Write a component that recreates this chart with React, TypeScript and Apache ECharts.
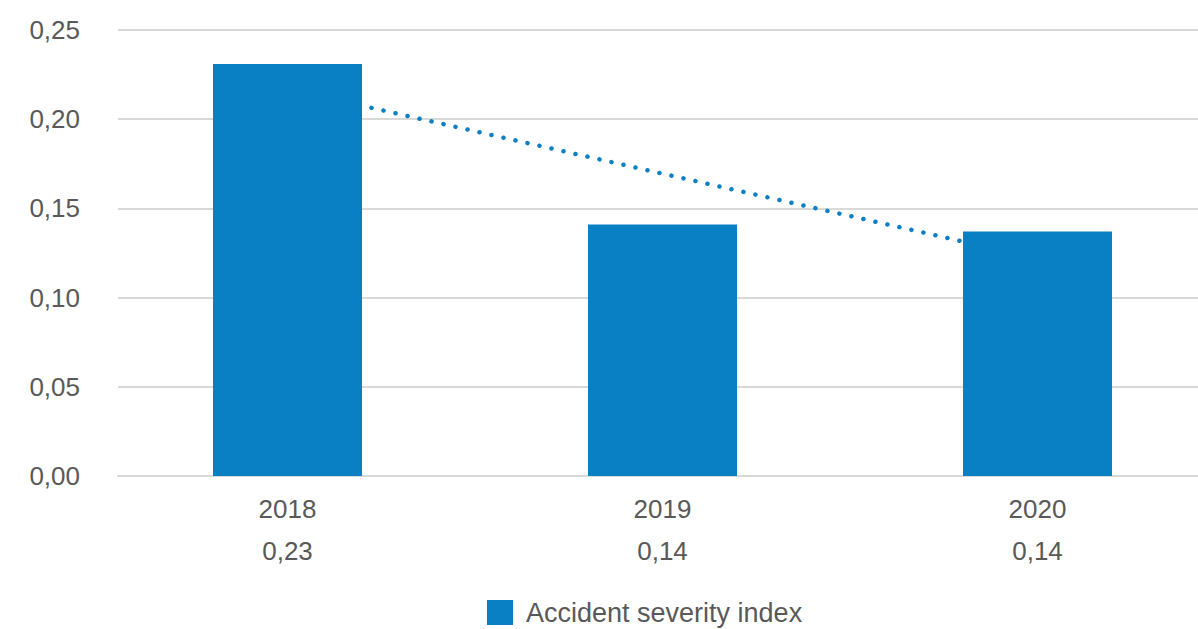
import React, { useEffect, useRef } from "react";
import * as echarts from "echarts";

const categories = ["2018", "2019", "2020"];
const severityValues = [0.231, 0.141, 0.137];
const trendValues = [0.217, 0.122]; // linear trend at 2018 and 2020
const yTicks = ["0,00", "0,05", "0,10", "0,15", "0,20", "0,25"];
const seriesName = "Accident severity index";

const BAR_COLOR = "#0a80c4";
const TEXT_COLOR = "#595959";
const GRID_COLOR = "#d9d9d9";
const FONT = "'Liberation Sans', Arial, sans-serif";

export default function App() {
  const ref = useRef<HTMLDivElement>(null);

  useEffect(() => {
    if (!ref.current) return;
    const chart = echarts.init(ref.current, undefined, { renderer: "svg" });
    const positions = categories.map((_, i) => i + 1);
    const fmt = (v: number) => v.toFixed(2).replace(".", ",");

    chart.setOption({
      animation: false,
      textStyle: { fontFamily: FONT },
      grid: { left: 118, right: 0, top: 30, bottom: 153, containLabel: false },
      legend: {
        data: [seriesName],
        left: 487,
        top: 599,
        padding: 0,
        icon: "rect",
        itemWidth: 26,
        itemHeight: 25,
        textStyle: { fontSize: 27, color: TEXT_COLOR, fontFamily: FONT, padding: [0, 0, 0, 8] },
      },
      xAxis: {
        type: "value",
        min: 0.548,
        max: 3.428,
        splitLine: { show: false },
        axisTick: { show: false },
        axisLine: { show: true, lineStyle: { color: GRID_COLOR, width: 2 } },
        axisLabel: {
          customValues: positions,
          margin: 12,
          fontSize: 26,
          lineHeight: 42,
          color: TEXT_COLOR,
          fontFamily: FONT,
          formatter: (v: number) => {
            const i = Math.round(v) - 1;
            return categories[i] + "\n" + fmt(severityValues[i]);
          },
        },
      },
      yAxis: {
        type: "value",
        min: 0,
        max: 0.25,
        interval: 0.05,
        axisLine: { show: false },
        axisTick: { show: false },
        splitLine: { lineStyle: { color: GRID_COLOR, width: 2 } },
        axisLabel: {
          margin: 38,
          fontSize: 26,
          color: TEXT_COLOR,
          fontFamily: FONT,
          formatter: (v: number) => yTicks[Math.round(v / 0.05)] ?? fmt(v),
        },
      },
      series: [
        {
          name: "Trend",
          type: "line",
          z: 1,
          symbol: "none",
          silent: true,
          data: [
            [positions[0], trendValues[0]],
            [positions[positions.length - 1], trendValues[1]],
          ],
          lineStyle: { color: BAR_COLOR, width: 4.5, type: [0.1, 12.2], cap: "round" },
        },
        {
          name: seriesName,
          type: "bar",
          z: 3,
          barWidth: 149,
          itemStyle: { color: BAR_COLOR },
          data: severityValues.map((v, i) => [positions[i], v]),
        },
      ],
    });
    return () => chart.dispose();
  }, []);

  return (
    <div
      ref={ref}
      style={{ position: "fixed", left: 0, top: 0, width: 1198, height: 629, background: "#fff" }}
    />
  );
}
